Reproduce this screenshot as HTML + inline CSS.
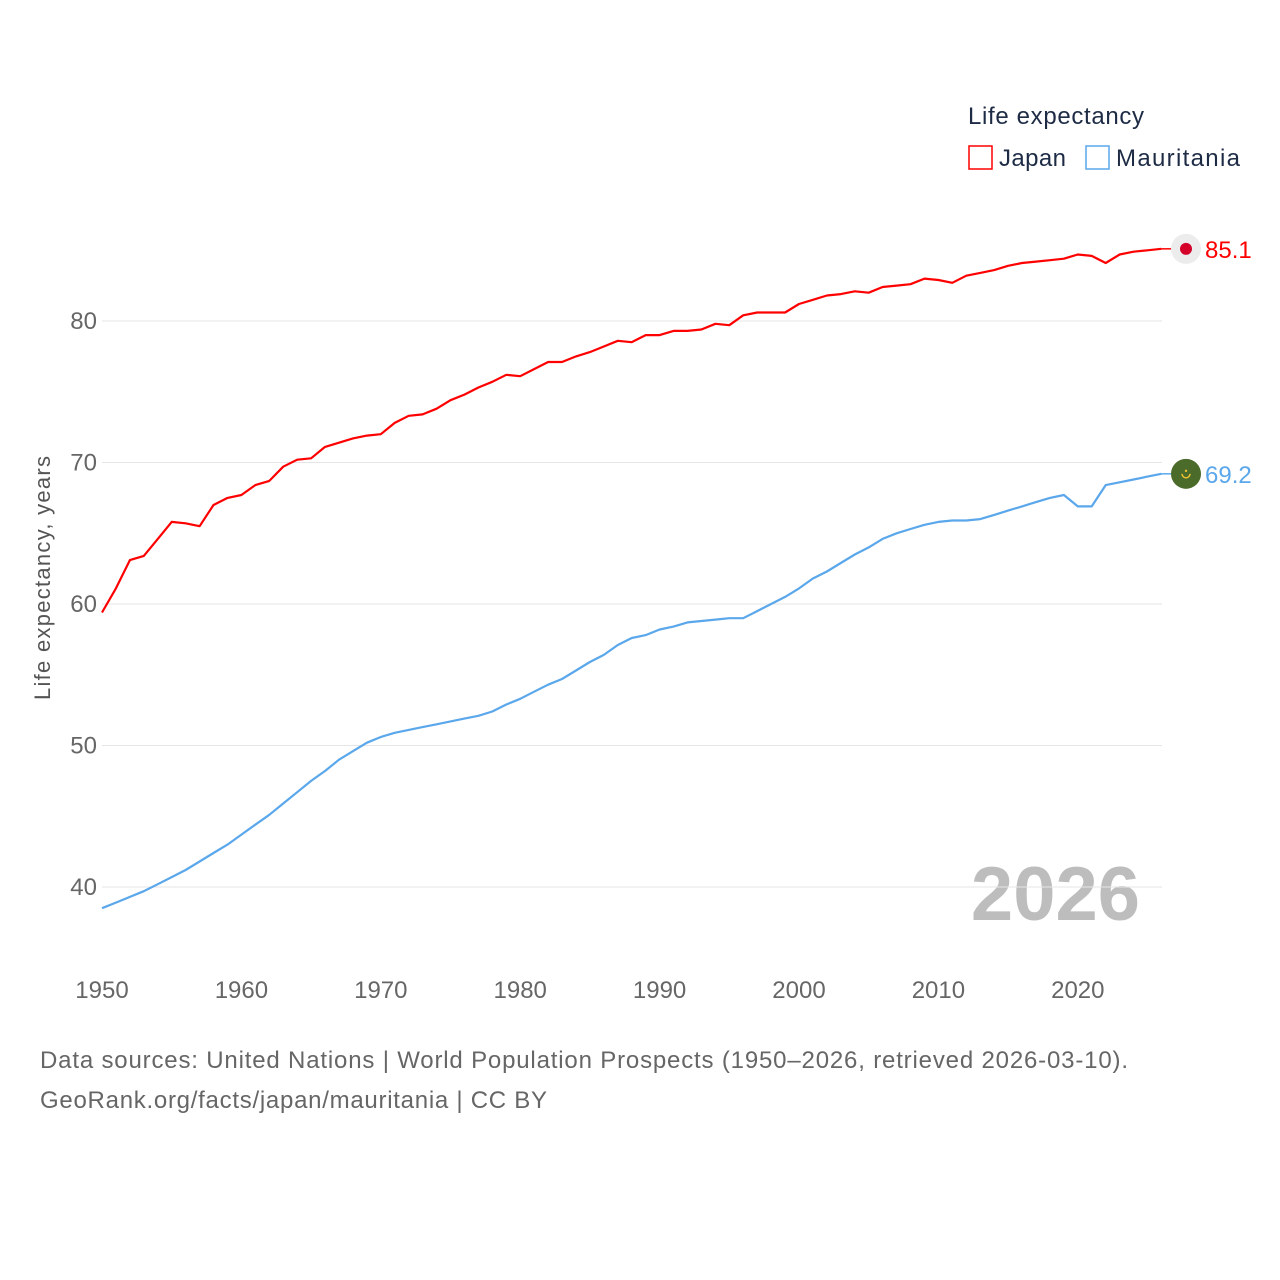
<!DOCTYPE html>
<html><head><meta charset="utf-8"><style>
body{margin:0;background:#fff;font-family:"Liberation Sans",sans-serif}
svg{display:block}
text{font-family:"Liberation Sans",sans-serif}
</style></head><body>
<svg id="chart" width="1280" height="1280">
  <text x="968" y="124" font-size="24" fill="#1d2b45" textLength="176">Life expectancy</text>
  <g><rect x="969" y="146" width="23" height="23" fill="none" stroke="#ff0000" stroke-width="1.5"/><text x="999" y="166" font-size="24" fill="#1d2b45" textLength="67">Japan</text></g>
  <g><rect x="1086" y="146" width="23" height="23" fill="none" stroke="#5aa7eb" stroke-width="1.5"/><text x="1116" y="166" font-size="24" fill="#1d2b45" textLength="124">Mauritania</text></g>
  <text transform="translate(50,578) rotate(-90)" text-anchor="middle" font-size="22" fill="#555" textLength="244">Life expectancy, years</text>
  <text x="1140" y="920" text-anchor="end" font-size="76" font-weight="bold" fill="#bdbdbd">2026</text>
  <text x="40" y="1068" font-size="24" fill="#666" textLength="1088">Data sources: United Nations | World Population Prospects (1950–2026, retrieved 2026-03-10).</text>
  <text x="40" y="1108" font-size="24" fill="#666" textLength="507">GeoRank.org/facts/japan/mauritania | CC BY</text>
  <g id="grid"></g><g id="series"></g>
</svg>
<script>
const years=[];for(let y=1950;y<=2026;y++)years.push(y);
const japan=[59.4,61.1,63.1,63.4,64.6,65.8,65.7,65.5,67.0,67.5,67.7,68.4,68.7,69.7,70.2,70.3,71.1,71.4,71.7,71.9,72.0,72.8,73.3,73.4,73.8,74.4,74.8,75.3,75.7,76.2,76.1,76.6,77.1,77.1,77.5,77.8,78.2,78.6,78.5,79.0,79.0,79.3,79.3,79.4,79.8,79.7,80.4,80.6,80.6,80.6,81.2,81.5,81.8,81.9,82.1,82.0,82.4,82.5,82.6,83.0,82.9,82.7,83.2,83.4,83.6,83.9,84.1,84.2,84.3,84.4,84.7,84.6,84.1,84.7,84.9,85.0,85.1];
const mauritania=[38.5,38.9,39.3,39.7,40.2,40.7,41.2,41.8,42.4,43.0,43.7,44.4,45.1,45.9,46.7,47.5,48.2,49.0,49.6,50.2,50.6,50.9,51.1,51.3,51.5,51.7,51.9,52.1,52.4,52.9,53.3,53.8,54.3,54.7,55.3,55.9,56.4,57.1,57.6,57.8,58.2,58.4,58.7,58.8,58.9,59.0,59.0,59.5,60.0,60.5,61.1,61.8,62.3,62.9,63.5,64.0,64.6,65.0,65.3,65.6,65.8,65.9,65.9,66.0,66.3,66.6,66.9,67.2,67.5,67.7,66.9,66.9,68.4,68.6,68.8,69.0,69.2];
const yTicks=[40,50,60,70,80];
const xTicks=[1950,1960,1970,1980,1990,2000,2010,2020];
const X=y=>102+(y-1950)*13.94;
const Y=v=>321+(80-v)*14.15;
const NS='http://www.w3.org/2000/svg';
const grid=document.getElementById('grid'),ser=document.getElementById('series');
function mk(tag,attrs,parent,txt){const e=document.createElementNS(NS,tag);for(const k in attrs)e.setAttribute(k,attrs[k]);if(txt!==undefined)e.textContent=txt;parent.appendChild(e);return e;}
yTicks.forEach(t=>{
 const l=mk('line',{x1:102,x2:1162,y1:Y(t),y2:Y(t),stroke:'#e6e6e6','stroke-width':1},grid);
 
 
 const tx=mk('text',{x:97,y:Y(t)+8,'text-anchor':'end','font-size':24,fill:'#666'},grid,String(t));
 
 
});
xTicks.forEach(t=>{
 const tx=mk('text',{x:X(t),y:998,'text-anchor':'middle','font-size':24,fill:'#666'},grid,String(t));
 
 
});
function line(vals,color,name,flag){
 const d=vals.map((v,i)=>(i?'L':'M')+X(years[i]).toFixed(1)+','+Y(v).toFixed(1)).join('');
 const p=mk('path',{d:d,fill:'none',stroke:color,'stroke-width':2.2,'stroke-linejoin':'round'},ser);
 
 
 const last=vals[vals.length-1],ly=Y(last);
 mk('line',{x1:X(2026),x2:1174,y1:ly,y2:ly,stroke:color,'stroke-width':1.5},ser);
 const g=mk('g',{},ser);
 
 
 flag(g,1186,ly);
 const t=mk('text',{x:1205,y:ly+9,'font-size':24,fill:color},ser,last.toFixed(1));
 
 
}
line(japan,'#ff0000','japan',(g,x,y)=>{mk('circle',{cx:x,cy:y,r:15,fill:'#ececec'},g);mk('circle',{cx:x,cy:y,r:6,fill:'#d4002a'},g);});
line(mauritania,'#5aa7eb','mauritania',(g,x,y)=>{mk('circle',{cx:x,cy:y,r:15,fill:'#4a6b2a'},g);mk('path',{d:`M${x-4},${y} A4,4 0 0 0 ${x+4},${y}`,fill:'none',stroke:'#f2c230','stroke-width':1.5},g);mk('circle',{cx:x,cy:y-3,r:1.2,fill:'#f2c230'},g);});
</script>
</body></html>
